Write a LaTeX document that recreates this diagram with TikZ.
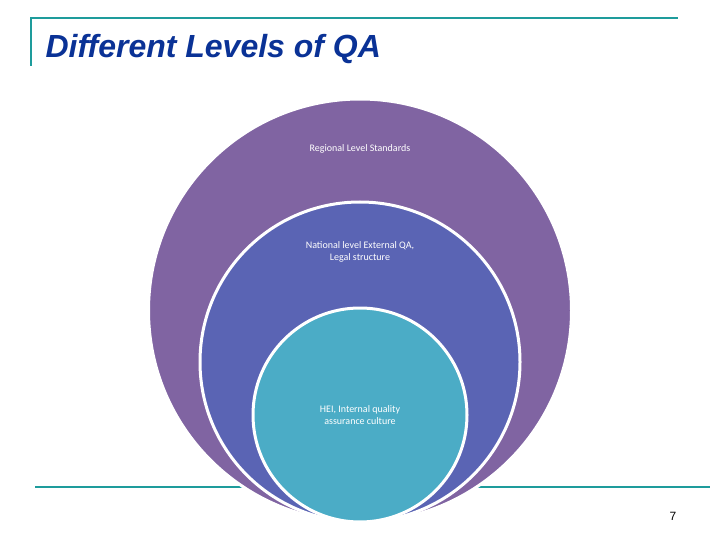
\documentclass[tikz,border=0pt]{standalone}
\usepackage{fontspec}
\setmainfont{Liberation Sans}
\newfontfamily\calfont{Carlito}
\definecolor{teal1}{HTML}{1E9C9C}
\definecolor{ttl}{HTML}{0A3296}
\definecolor{cpur}{HTML}{8064A2}
\definecolor{cblu}{HTML}{5A64B4}
\definecolor{ctea}{HTML}{4BACC6}
\begin{document}
\begin{tikzpicture}[x=1pt,y=-1pt,
  circ/.style={circle,draw=white,line width=3pt,inner sep=0pt},
  lbl/.style={text=white,font=\calfont\fontsize{10}{12}\selectfont,align=center}]
\useasboundingbox (0,0) rectangle (720,540);
\draw[teal1,line width=2.5pt] (31,66) -- (31,18) -- (678,18);
\draw[teal1,line width=2.5pt] (35,487) -- (710,487);
\node[anchor=west,text=ttl,font=\bfseries\itshape\fontsize{32}{36}\selectfont] (title) at (42,49) {Different Levels of QA};
\node[circ,fill=cpur,minimum size=423pt] (c1) at (360,310.5) {};
\node[circ,fill=cblu,minimum size=320pt] (c2) at (360,362) {};
\node[circ,fill=ctea,minimum size=214pt] (c3) at (360,415) {};
\node[lbl] (l1) at (360,149) {Regional Level Standards};
\node[lbl] (l2) at (360,252) {National level External QA,\\Legal structure};
\node[lbl] (l3) at (360,415) {HEI, Internal quality\\assurance culture};
\node[font=\fontsize{12}{14}\selectfont] (pg) at (673,516) {7};
\end{tikzpicture}
\end{document}
